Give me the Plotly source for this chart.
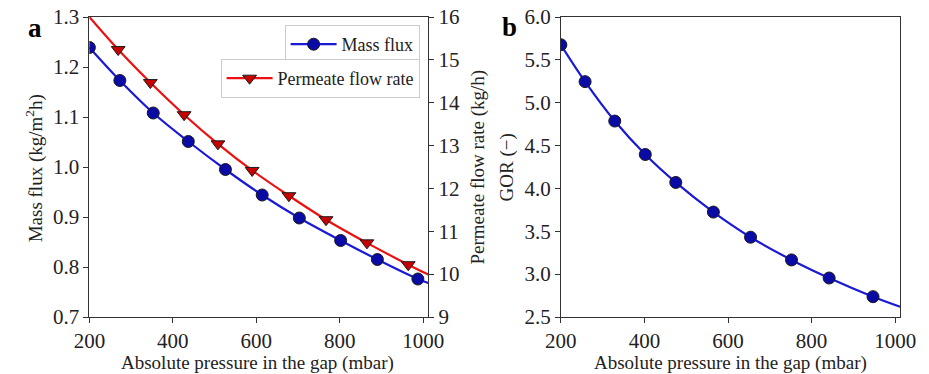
import plotly.graph_objects as go

# ---- data ----
mass_p = [200, 273, 353, 437, 526, 614, 703, 802, 890, 987]
mass_flux = [1.239, 1.173, 1.108, 1.051, 0.995, 0.944, 0.898, 0.853, 0.815, 0.776]
mass_line_p = [200, 273, 353, 437, 526, 614, 703, 802, 890, 987, 1012]
mass_line = [1.239, 1.173, 1.108, 1.051, 0.995, 0.944, 0.898, 0.853, 0.815, 0.776, 0.768]

perm_p = [269, 346, 427, 508, 590, 678, 767, 865, 964]
perm_rate = [15.24, 14.47, 13.72, 13.04, 12.42, 11.83, 11.27, 10.73, 10.22]
perm_line_p = [200, 269, 346, 427, 508, 590, 678, 767, 865, 964, 1012]
perm_line = [16.0, 15.24, 14.47, 13.72, 13.04, 12.42, 11.83, 11.27, 10.73, 10.22, 9.99]

gor_p = [200, 258, 329, 402, 475, 565, 654, 752, 842, 947]
gor = [5.676, 5.246, 4.786, 4.396, 4.07, 3.724, 3.431, 3.166, 2.955, 2.737]
gor_line_p = [200, 258, 329, 402, 475, 565, 654, 752, 842, 947, 1012]
gor_line = [5.676, 5.246, 4.786, 4.396, 4.07, 3.724, 3.431, 3.166, 2.955, 2.737, 2.62]

x_ticks = [200, 400, 600, 800, 1000]
flux_ticks = [0.7, 0.8, 0.9, 1.0, 1.1, 1.2, 1.3]
rate_ticks = [9, 10, 11, 12, 13, 14, 15, 16]
gor_ticks = [2.5, 3.0, 3.5, 4.0, 4.5, 5.0, 5.5, 6.0]

FONT = "'Liberation Serif', 'DejaVu Serif', serif"
BLUE_LINE = "#1a1ad6"
BLUE_FILL = "#0a0aa6"
RED_LINE = "#ec1010"
RED_FILL = "#c80000"
EDGE = "#1a1a1a"
AX = "#333333"
MS = 12

fig = go.Figure()

# left panel: mass flux
fig.add_trace(go.Scatter(x=mass_line_p, y=mass_line, mode="lines", line=dict(color=BLUE_LINE, width=2.2, shape="spline"),
                         xaxis="x", yaxis="y", showlegend=False, hoverinfo="skip"))
fig.add_trace(go.Scatter(x=mass_p, y=mass_flux, mode="markers",
                         marker=dict(symbol="circle", size=MS, color=BLUE_FILL, line=dict(color=EDGE, width=1)),
                         xaxis="x", yaxis="y", showlegend=False))
# left panel: permeate flow rate
fig.add_trace(go.Scatter(x=perm_line_p, y=perm_line, mode="lines", line=dict(color=RED_LINE, width=2.2, shape="spline"),
                         xaxis="x", yaxis="y2", showlegend=False, hoverinfo="skip"))
fig.add_trace(go.Scatter(x=perm_p, y=perm_rate, mode="markers",
                         marker=dict(symbol="triangle-down", size=MS, color=RED_FILL, line=dict(color=EDGE, width=1)),
                         xaxis="x", yaxis="y2", showlegend=False))
# legend entries
fig.add_trace(go.Scatter(x=[None], y=[None], mode="lines+markers", name="Mass flux",
                         line=dict(color=BLUE_LINE, width=2.2),
                         marker=dict(symbol="circle", size=MS, color=BLUE_FILL, line=dict(color=EDGE, width=1)),
                         xaxis="x", yaxis="y", legend="legend"))
fig.add_trace(go.Scatter(x=[None], y=[None], mode="lines+markers", name="Permeate flow rate",
                         line=dict(color=RED_LINE, width=2.2),
                         marker=dict(symbol="triangle-down", size=MS, color=RED_FILL, line=dict(color=EDGE, width=1)),
                         xaxis="x", yaxis="y2", legend="legend2"))

# right panel: GOR
fig.add_trace(go.Scatter(x=gor_line_p, y=gor_line, mode="lines", line=dict(color=BLUE_LINE, width=2.2, shape="spline"),
                         xaxis="x2", yaxis="y3", showlegend=False, hoverinfo="skip"))
fig.add_trace(go.Scatter(x=gor_p, y=gor, mode="markers",
                         marker=dict(symbol="circle", size=MS, color=BLUE_FILL, line=dict(color=EDGE, width=1)),
                         xaxis="x2", yaxis="y3", showlegend=False))

W, H = 929, 374
TOP, BOT = 17, 317  # plot area top/bottom in px


def py(p):
    return (BOT - p) / (BOT - TOP)


tickfont = dict(family=FONT, size=21, color="#222222")
common_ax = dict(showgrid=False, zeroline=False, ticks="outside", ticklen=5, tickwidth=1, tickcolor=AX,
                 showline=True, linecolor=AX, linewidth=1, tickfont=tickfont)

legend_common = dict(bgcolor="white", bordercolor="#cccccc", borderwidth=1,
                     font=dict(family=FONT, size=18, color="#222222"),
                     xanchor="right", yanchor="top", itemwidth=46, tracegroupgap=0)

fig.update_layout(
    width=W, height=H,
    margin=dict(l=0, r=0, t=TOP, b=H - BOT),
    plot_bgcolor="white", paper_bgcolor="white",
    font=dict(family=FONT),
    xaxis=dict(domain=[76 / W, 427 / W], range=[200, 1012], tickvals=x_ticks, mirror=True, anchor="y", **common_ax),
    yaxis=dict(range=[0.7, 1.3], tickvals=flux_ticks, tickformat=".1f", anchor="x", **common_ax),
    yaxis2=dict(range=[9, 16], tickvals=rate_ticks, overlaying="y", side="right", anchor="x", **common_ax),
    xaxis2=dict(domain=[564.3 / W, 915.7 / W], range=[200, 1012], tickvals=x_ticks, mirror=True, anchor="y3", **common_ax),
    yaxis3=dict(range=[2.5, 6.0], tickvals=gor_ticks, tickformat=".1f", mirror=True, anchor="x2", **common_ax),
    legend=dict(x=418 / W, y=py(25), **legend_common),
    legend2=dict(x=418 / W, y=py(59), **legend_common),
)

ann_font = dict(family=FONT, size=19, color="#222222")
annotations = [
    dict(text="<b>a</b>", x=20, y=28, font=dict(family=FONT, size=27, color="black")),
    dict(text="<b>b</b>", x=511, y=27, font=dict(family=FONT, size=27, color="black")),
    dict(text="Absolute pressure in the gap (mbar)", x=250, y=363, font=ann_font),
    dict(text="Absolute pressure in the gap (mbar)", x=740, y=363, font=ann_font),
    dict(text="Mass flux (kg/m<sup>2</sup>h)", x=19, y=168, textangle=-90, font=ann_font),
    dict(text="Permeate flow rate (kg/h)", x=478, y=167, textangle=-90, font=ann_font),
    dict(text="GOR (−)", x=509, y=167, textangle=-90, font=ann_font),
]
for a in annotations:
    fig.add_annotation(xref="paper", yref="paper", x=a["x"] / W, y=py(a["y"]), text=a["text"],
                       showarrow=False, xanchor="center", yanchor="middle",
                       textangle=a.get("textangle", 0), font=a["font"])

fig.write_html("out.html", config={"displayModeBar": False},
               post_script="document.body.style.margin='0';")
